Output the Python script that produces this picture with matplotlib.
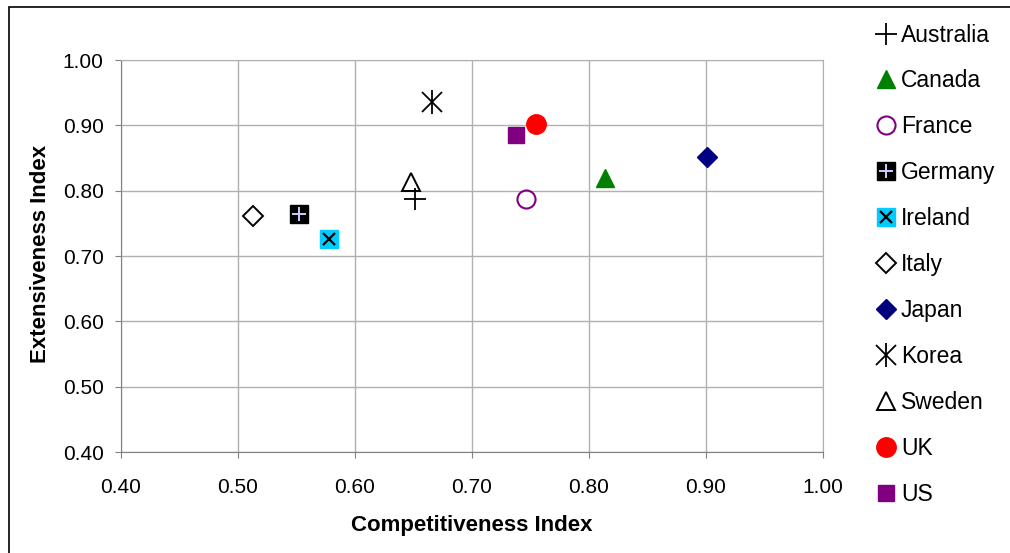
import matplotlib.pyplot as plt
from matplotlib.patches import Rectangle

plt.rcParams['font.family'] = ['Liberation Sans', 'DejaVu Sans']

countries = ["Australia", "Canada", "France", "Germany", "Ireland", "Italy",
             "Japan", "Korea", "Sweden", "UK", "US"]
competitiveness = [0.651, 0.814, 0.746, 0.552, 0.578, 0.513,
                   0.901, 0.666, 0.648, 0.755, 0.738]
extensiveness = [0.787, 0.819, 0.788, 0.764, 0.726, 0.762,
                 0.851, 0.936, 0.813, 0.902, 0.885]
ticks = [0.40, 0.50, 0.60, 0.70, 0.80, 0.90, 1.00]

# marker layers per country: (marker, size, face, edge, edge width)
styles = {
    "Australia": [("+", 16, "none", "black", 1.3)],
    "Canada": [("^", 13, "green", "green", 1)],
    "France": [("o", 13, "none", "purple", 1.5)],
    "Germany": [("s", 13.5, "black", "black", 1), ("+", 10, "none", "#ccccff", 1.4)],
    "Ireland": [("s", 13.5, "#00ccff", "#00ccff", 1), ("x", 9, "none", "black", 1.6)],
    "Italy": [("D", 10.5, "none", "black", 1.4)],
    "Japan": [("D", 10.5, "navy", "navy", 1)],
    "Korea": [("x", 14, "none", "black", 1.3), ("|", 17, "none", "black", 1.3)],
    "Sweden": [("^", 13, "none", "black", 1.4)],
    "UK": [("o", 14, "red", "red", 1)],
    "US": [("s", 12, "purple", "purple", 1)],
}

fig = plt.figure(figsize=(10.1, 5.53), dpi=100)
ax = fig.add_axes([0.1198, 0.1826, 0.6951, 0.7089])

handles = []
for name, x, y in zip(countries, competitiveness, extensiveness):
    parts = []
    for m, s, fc, ec, lw in styles[name]:
        h, = ax.plot([x], [y], linestyle="none", marker=m, markersize=s,
                     markerfacecolor=fc, markeredgecolor=ec, markeredgewidth=lw,
                     zorder=3)
        parts.append(h)
    handles.append(tuple(parts))

ax.set_xlim(0.40, 1.00)
ax.set_ylim(0.40, 1.00)
ax.set_xticks(ticks)
ax.set_yticks(ticks)
ax.set_xticklabels([f"{t:.2f}" for t in ticks])
ax.set_yticklabels([f"{t:.2f}" for t in ticks])
ax.tick_params(direction="out", length=4.5, color="#808080", labelsize=15)
ax.tick_params(axis="y", pad=8)
ax.tick_params(axis="x", pad=14)
ax.grid(True, color="#b0b0b0", linewidth=1)
ax.set_axisbelow(True)
for side in ["top", "right"]:
    ax.spines[side].set_color("#b0b0b0")
for side in ["left", "bottom"]:
    ax.spines[side].set_color("#808080")

ax.set_xlabel("Competitiveness Index", fontsize=16, fontweight="bold")
ax.set_ylabel("Extensiveness Index", fontsize=16, fontweight="bold")
ax.xaxis.set_label_coords(0.5, -0.161)
ax.yaxis.set_label_coords(-0.1, 0.505)

fig.legend(handles, countries, loc="upper left", bbox_to_anchor=(0.859, 0.974),
           frameon=False, fontsize=16.5, handlelength=0.8, handletextpad=0.25,
           labelspacing=1.0, borderaxespad=0)

# outer chart border (cropped at right/bottom)
fig.patches.append(Rectangle((9 / 1010, -0.1), 1.2, (553 - 7) / 553 + 0.1,
                             transform=fig.transFigure, fill=False,
                             edgecolor="black", linewidth=1.2))

fig.savefig("out.png", dpi=100)
